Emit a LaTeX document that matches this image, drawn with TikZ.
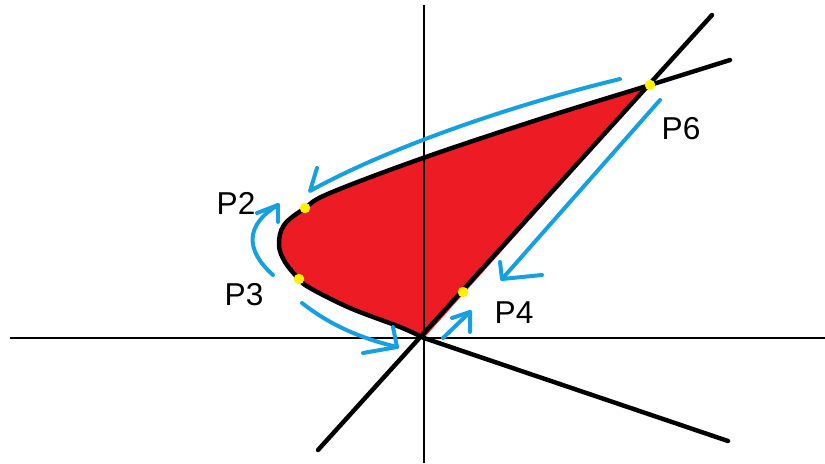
\documentclass[tikz,border=0pt]{standalone}
\usepackage{fontspec}
\setmainfont{Liberation Sans}
\definecolor{paintred}{RGB}{237,28,36}
\definecolor{paintblue}{RGB}{20,160,225}
\definecolor{paintyellow}{RGB}{255,240,0}
\begin{document}
\begin{tikzpicture}[x=0.03cm,y=-0.03cm,
  axis/.style={line width=1.3pt},
  curve/.style={line width=3.8pt,line cap=round,line join=round},
  bluearrow/.style={paintblue,line width=3.4pt,line cap=round,line join=round},
  dot/.style={circle,fill=paintyellow,inner sep=0pt,minimum size=9pt},
  lbl/.style={font=\fontsize{27}{30}\selectfont,inner sep=0pt}]
\useasboundingbox (0,0) rectangle (825,463);
% key points
\coordinate (O) at (424,338);
\coordinate (P2) at (305,208);
\coordinate (P3) at (299,279);
\coordinate (P4) at (463,292);
\coordinate (P6) at (650,85);
\coordinate (Lb) at (318,450);
\coordinate (Lt) at (712,15);
\coordinate (Ce) at (730,60);
\coordinate (Br) at (728,441);
% filled region
\fill[paintred] plot[smooth,tension=0.6] coordinates {(424,338) (400,327) (350,308) (310,288) (299,279) (285,262) (279,245) (284,225) (305,208) (330,193) (423,158) (540,119) (650,85)} -- cycle;
% axes
\draw[axis] (10,338) -- (825,338);
\draw[axis] (424,5) -- (424,463);
% curve
\draw[curve] plot[smooth,tension=0.6] coordinates {(424,338) (400,327) (350,308) (310,288) (299,279) (285,262) (279,245) (284,225) (305,208) (330,193) (423,158) (540,119) (650,85) (730,60)};
\draw[curve] (O) -- (Br);
\draw[curve] (Lb) -- (Lt);
% blue arrows
\draw[bluearrow] (620,79) .. controls (500,108) and (380,152) .. (310,191) -- (317,168);
\draw[bluearrow] (273,275) .. controls (245,250) and (245,225) .. (278,205);
\draw[bluearrow] (257,213) -- (278,205) -- (278,222);
\draw[bluearrow] (302,303) .. controls (330,325) and (360,338) .. (397,347);
\draw[bluearrow] (393,327) -- (397,347) -- (363,353);
\draw[bluearrow] (660,100) -- (502,279);
\draw[bluearrow] (500,262) -- (502,279) -- (542,275);
\draw[bluearrow] (443,338) -- (470,312);
\draw[bluearrow] (452,318) -- (470,312) -- (470,332);
% dots
\node[dot] (d2) at (P2) {};
\node[dot] (d3) at (P3) {};
\node[dot] (d4) at (P4) {};
\node[dot] (d6) at (P6) {};
% labels
\node[lbl] (l2) at (236,203) {P2};
\node[lbl] (l3) at (244,295) {P3};
\node[lbl] (l4) at (514,313) {P4};
\node[lbl] (l6) at (681,129) {P6};
\end{tikzpicture}
\end{document}
